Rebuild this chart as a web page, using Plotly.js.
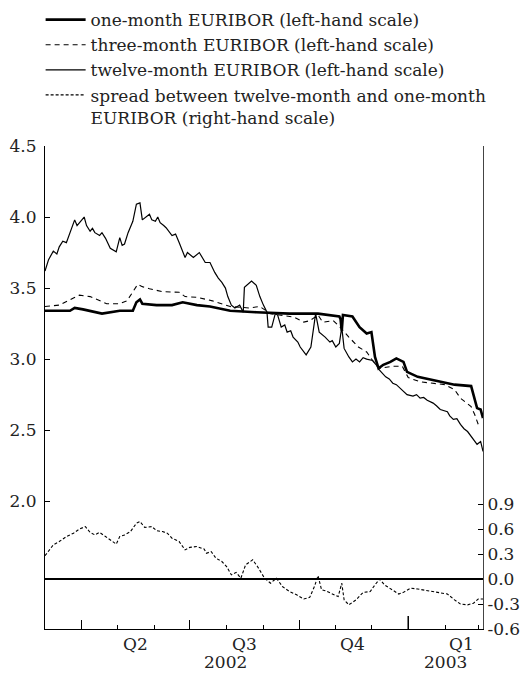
<!DOCTYPE html>
<html>
<head>
<meta charset="utf-8">
<script src="https://cdn.plot.ly/plotly-3.0.1.min.js"></script>
<style>
  body { margin: 0; background: #fff; }
  #plot { width: 528px; height: 677px; }
</style>
</head>
<body>
<div id="plot"></div>
<script>
// one-month EURIBOR (left-hand scale)
let oneMonthDates = ["2002-03-01","2002-03-22","2002-03-26","2002-04-02","2002-04-18","2002-05-03","2002-05-14","2002-05-17","2002-05-20","2002-05-22","2002-06-03","2002-06-16","2002-06-25","2002-07-07","2002-07-18","2002-08-04","2002-08-26","2002-09-23","2002-10-17","2002-10-27","2002-11-04","2002-11-05","2002-11-06","2002-11-07","2002-11-15","2002-11-21","2002-11-27","2002-12-01","2002-12-04","2002-12-07","2002-12-11","2002-12-17","2002-12-22","2002-12-28","2002-12-31","2003-01-09","2003-01-17","2003-01-28","2003-02-09","2003-02-23","2003-02-26","2003-02-28","2003-03-03","2003-03-05"];
let oneMonth = [3.34,3.34,3.36,3.35,3.32,3.34,3.34,3.40,3.42,3.39,3.38,3.38,3.40,3.38,3.37,3.34,3.33,3.32,3.32,3.31,3.30,3.28,3.20,3.31,3.30,3.225,3.18,3.19,3.015,2.935,2.96,2.98,3.005,2.98,2.91,2.875,2.86,2.84,2.82,2.81,2.71,2.655,2.645,2.585];

// three-month EURIBOR (left-hand scale)
let threeMonthDates = ["2002-03-01","2002-03-13","2002-03-25","2002-03-30","2002-04-08","2002-04-22","2002-05-03","2002-05-09","2002-05-13","2002-05-18","2002-05-22","2002-05-28","2002-06-08","2002-06-22","2002-06-27","2002-07-07","2002-07-20","2002-08-04","2002-08-20","2002-08-29","2002-09-07","2002-09-27","2002-10-05","2002-10-10","2002-10-17","2002-10-21","2002-10-30","2002-11-04","2002-11-12","2002-11-20","2002-11-27","2002-12-02","2002-12-08","2002-12-19","2002-12-27","2003-01-01","2003-01-11","2003-01-22","2003-02-01","2003-02-09","2003-02-14","2003-02-23","2003-02-26","2003-03-01","2003-03-04"];
let threeMonth = [3.37,3.38,3.43,3.45,3.44,3.39,3.39,3.41,3.46,3.525,3.51,3.495,3.475,3.47,3.44,3.435,3.41,3.37,3.36,3.37,3.32,3.295,3.26,3.27,3.31,3.26,3.27,3.23,3.155,3.085,3.05,2.99,2.935,2.95,2.95,2.87,2.84,2.83,2.82,2.785,2.725,2.665,2.61,2.54,2.53];

// twelve-month EURIBOR (left-hand scale)
let twelveMonthDates = ["2002-03-01","2002-03-04","2002-03-08","2002-03-11","2002-03-13","2002-03-16","2002-03-19","2002-03-22","2002-03-26","2002-03-28","2002-03-30","2002-04-03","2002-04-05","2002-04-08","2002-04-10","2002-04-12","2002-04-16","2002-04-18","2002-04-21","2002-04-25","2002-04-30","2002-05-03","2002-05-05","2002-05-07","2002-05-10","2002-05-14","2002-05-17","2002-05-20","2002-05-22","2002-05-25","2002-05-28","2002-05-30","2002-06-02","2002-06-04","2002-06-06","2002-06-09","2002-06-11","2002-06-16","2002-06-19","2002-06-22","2002-06-27","2002-06-29","2002-07-04","2002-07-09","2002-07-12","2002-07-14","2002-07-18","2002-07-20","2002-07-22","2002-07-25","2002-07-28","2002-07-31","2002-08-02","2002-08-05","2002-08-08","2002-08-12","2002-08-15","2002-08-16","2002-08-22","2002-08-26","2002-08-29","2002-09-01","2002-09-04","2002-09-05","2002-09-08","2002-09-11","2002-09-13","2002-09-16","2002-09-19","2002-09-21","2002-09-24","2002-09-26","2002-09-30","2002-10-02","2002-10-07","2002-10-11","2002-10-15","2002-10-18","2002-10-21","2002-10-23","2002-10-27","2002-10-29","2002-11-01","2002-11-04","2002-11-06","2002-11-08","2002-11-12","2002-11-15","2002-11-18","2002-11-21","2002-11-24","2002-11-27","2002-12-02","2002-12-05","2002-12-08","2002-12-10","2002-12-13","2002-12-16","2002-12-19","2002-12-22","2002-12-25","2002-12-28","2002-12-31","2003-01-05","2003-01-08","2003-01-11","2003-01-14","2003-01-17","2003-01-22","2003-01-25","2003-01-28","2003-02-03","2003-02-05","2003-02-08","2003-02-11","2003-02-14","2003-02-17","2003-02-20","2003-02-25","2003-02-28","2003-03-03","2003-03-05"];
let twelveMonth = [3.62,3.70,3.76,3.74,3.79,3.83,3.82,3.89,3.98,3.94,3.96,4.00,3.94,3.90,3.92,3.89,3.87,3.89,3.85,3.78,3.755,3.855,3.80,3.81,3.89,3.97,4.09,4.10,3.98,4.00,4.02,3.98,3.97,4.00,3.96,3.94,3.925,3.87,3.88,3.82,3.715,3.75,3.715,3.75,3.71,3.68,3.68,3.64,3.61,3.57,3.54,3.50,3.44,3.38,3.36,3.38,3.33,3.505,3.55,3.52,3.44,3.38,3.33,3.225,3.225,3.32,3.31,3.225,3.24,3.19,3.20,3.155,3.12,3.085,3.03,3.085,3.32,3.19,3.17,3.155,3.12,3.13,3.085,3.11,3.225,3.075,3.015,2.98,3.00,2.98,3.01,3.00,2.99,2.96,2.92,2.90,2.875,2.86,2.83,2.82,2.795,2.77,2.75,2.74,2.75,2.725,2.73,2.71,2.69,2.67,2.645,2.63,2.60,2.575,2.58,2.54,2.51,2.49,2.435,2.40,2.42,2.35];

// spread between twelve-month and one-month EURIBOR (right-hand scale)
let spreadDates = ["2002-03-01","2002-03-08","2002-03-13","2002-03-19","2002-03-25","2002-03-30","2002-04-04","2002-04-08","2002-04-12","2002-04-16","2002-04-21","2002-04-25","2002-04-30","2002-05-03","2002-05-07","2002-05-12","2002-05-17","2002-05-20","2002-05-24","2002-05-30","2002-06-03","2002-06-08","2002-06-12","2002-06-16","2002-06-22","2002-06-27","2002-07-01","2002-07-07","2002-07-13","2002-07-15","2002-07-19","2002-07-23","2002-07-28","2002-08-01","2002-08-05","2002-08-09","2002-08-13","2002-08-17","2002-08-23","2002-08-27","2002-08-31","2002-09-02","2002-09-07","2002-09-12","2002-09-17","2002-09-23","2002-09-29","2002-10-05","2002-10-10","2002-10-14","2002-10-17","2002-10-20","2002-10-23","2002-10-30","2002-11-03","2002-11-06","2002-11-08","2002-11-12","2002-11-18","2002-11-24","2002-11-30","2002-12-04","2002-12-08","2002-12-12","2002-12-18","2002-12-24","2002-12-28","2003-01-03","2003-01-09","2003-01-17","2003-01-26","2003-02-03","2003-02-09","2003-02-14","2003-02-20","2003-02-25","2003-03-01","2003-03-05"];
let spread = [0.28,0.41,0.45,0.51,0.55,0.60,0.63,0.56,0.53,0.56,0.51,0.47,0.42,0.51,0.53,0.57,0.67,0.69,0.62,0.63,0.58,0.57,0.55,0.49,0.45,0.35,0.38,0.39,0.36,0.31,0.33,0.25,0.21,0.15,0.05,0.08,0.01,0.17,0.23,0.15,0.05,0.01,-0.05,0.01,-0.09,-0.15,-0.19,-0.24,-0.22,-0.09,0.04,-0.13,-0.14,-0.19,-0.21,-0.05,-0.25,-0.31,-0.25,-0.16,-0.15,-0.07,0.0,-0.07,-0.13,-0.18,-0.16,-0.11,-0.12,-0.14,-0.16,-0.18,-0.25,-0.30,-0.31,-0.29,-0.24,-0.24];

// axis labels
let leftTicks = [2.0, 2.5, 3.0, 3.5, 4.0, 4.5];
let rightTicks = [-0.6, -0.3, 0.0, 0.3, 0.6, 0.9];
let quarterLabels = ["Q2", "Q3", "Q4", "Q1"];
let quarterMids = ["2002-05-16", "2002-08-16", "2002-11-15", "2003-02-15"];
let yearLabels = ["2002", "2003"];
let yearMids = ["2002-07-31", "2003-02-01"];

let serif = "'DejaVu Serif', serif";

let traces = [
  {x: oneMonthDates, y: oneMonth, type: "scatter", mode: "lines",
   name: "one-month EURIBOR (left-hand scale)",
   line: {color: "#000", width: 2.6}},
  {x: threeMonthDates, y: threeMonth, type: "scatter", mode: "lines",
   name: "three-month EURIBOR (left-hand scale)",
   line: {color: "#000", width: 1.1, dash: "5px,4px"}},
  {x: twelveMonthDates, y: twelveMonth, type: "scatter", mode: "lines",
   name: "twelve-month EURIBOR (left-hand scale)",
   line: {color: "#000", width: 1.2}},
  {x: spreadDates, y: spread, type: "scatter", mode: "lines", yaxis: "y2",
   name: "spread between twelve-month and one-month<br>EURIBOR (right-hand scale)",
   line: {color: "#000", width: 1.1, dash: "3px,2px"}}
];

let annotations = [];
quarterLabels.forEach(function (q, i) {
  annotations.push({x: quarterMids[i], y: 0, xref: "x", yref: "paper",
    yanchor: "top", yshift: -3, text: q, showarrow: false,
    font: {family: serif, size: 17, color: "#222"}});
});
yearLabels.forEach(function (t, i) {
  annotations.push({x: yearMids[i], y: 0, xref: "x", yref: "paper",
    yanchor: "top", yshift: -21, text: t, showarrow: false,
    font: {family: serif, size: 17, color: "#222"}});
});

let layout = {
  width: 528,
  height: 677,
  margin: {l: 45, r: 45, t: 146, b: 48, autoexpand: false},
  paper_bgcolor: "#fff",
  plot_bgcolor: "#fff",
  font: {family: serif, size: 17, color: "#222"},
  showlegend: true,
  legend: {
    x: -0.01, y: 1.298, xanchor: "left", yanchor: "top", valign: "top",
    font: {family: serif, size: 17, color: "#222"},
    tracegroupgap: 0, itemwidth: 40, bgcolor: "rgba(0,0,0,0)"
  },
  xaxis: {
    type: "date",
    range: ["2002-03-01", "2003-03-05"],
    showgrid: false, zeroline: false,
    showline: true, linecolor: "#000", linewidth: 1,
    ticks: "inside", ticklen: 9, tickcolor: "#000",
    dtick: "M3", tick0: "2002-01-01",
    showticklabels: false,
    minor: {dtick: "M1", tick0: "2002-01-01", ticks: "inside", ticklen: 4, tickcolor: "#000", showgrid: false}
  },
  yaxis: {
    range: [1.1, 4.5],
    showgrid: false, zeroline: false,
    showline: true, linecolor: "#000", linewidth: 1,
    ticks: "inside", ticklen: 5, tickcolor: "#000",
    tickvals: leftTicks,
    ticktext: leftTicks.map(function (v) { return v.toFixed(1); }),
    ticklabelstandoff: 4
  },
  yaxis2: {
    overlaying: "y", side: "right",
    range: [-0.6, 5.2],
    showgrid: false,
    zeroline: true, zerolinecolor: "#000", zerolinewidth: 1.6,
    showline: true, linecolor: "#444", linewidth: 1,
    ticks: "inside", ticklen: 5, tickcolor: "#000",
    tickvals: rightTicks,
    ticktext: rightTicks.map(function (v) { return v.toFixed(1); }),
    ticklabelstandoff: 0
  },
  shapes: [
    // longer tick marking the year boundary
    {type: "line", xref: "x", yref: "paper", x0: "2003-01-01", x1: "2003-01-01",
     y0: 0, y1: 0.027, line: {color: "#000", width: 1.5}}
  ],
  annotations: annotations
};

Plotly.newPlot("plot", traces, layout, {displayModeBar: false, staticPlot: true});
</script>
</body>
</html>
